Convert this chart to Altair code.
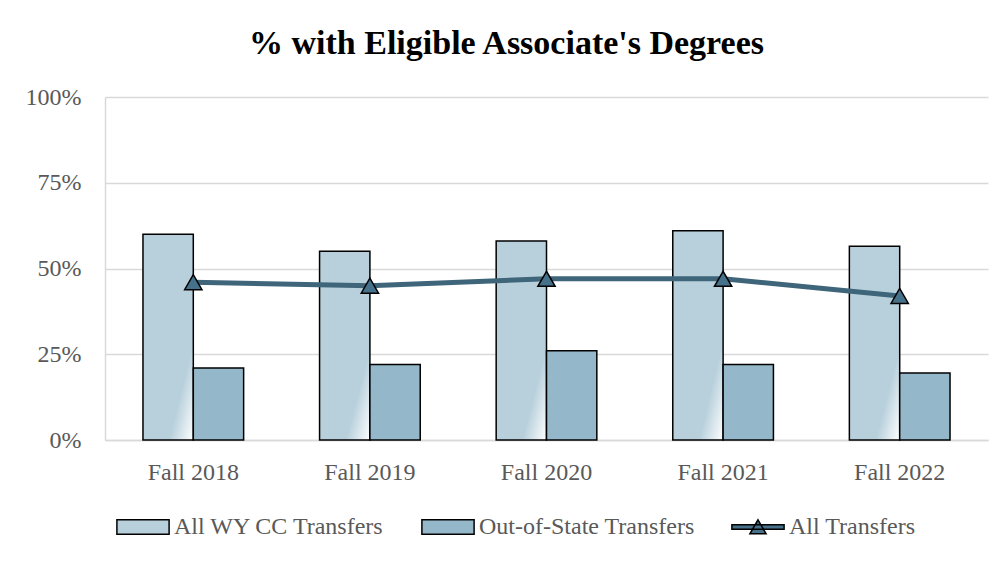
import altair as alt
import pandas as pd

categories = ["Fall 2018", "Fall 2019", "Fall 2020", "Fall 2021", "Fall 2022"]
series = ["All WY CC Transfers", "Out-of-State Transfers", "All Transfers"]
wy_cc = [0.60, 0.55, 0.58, 0.61, 0.565]
out_state = [0.21, 0.22, 0.26, 0.22, 0.195]
all_transfers = [0.46, 0.45, 0.47, 0.47, 0.42]

bars = pd.DataFrame(
    [{"cat": c, "series": series[0], "value": v} for c, v in zip(categories, wy_cc)]
    + [{"cat": c, "series": series[1], "value": v} for c, v in zip(categories, out_state)]
)
line = pd.DataFrame({"cat": categories, "series": series[2], "value": all_transfers})
legend_df = pd.DataFrame({"series": series})

FONT = "Liberation Serif"
GREY = "#595959"

gradient = {
    "gradient": "linear",
    "x1": 0, "y1": 0, "x2": 1, "y2": 1,
    "stops": [
        {"offset": 0, "color": "#b8d0dc"},
        {"offset": 0.76, "color": "#b8d0dc"},
        {"offset": 1, "color": "#ffffff"},
    ],
}

x_enc = alt.X(
    "cat:N",
    sort=categories,
    scale=alt.Scale(domain=categories, paddingInner=0.43, paddingOuter=0.215),
    axis=alt.Axis(title=None, labelAngle=0, ticks=False, domainColor="#d9d9d9",
                  domainWidth=1.5, labelPadding=20, grid=False),
)
y_enc = alt.Y(
    "value:Q",
    scale=alt.Scale(domain=[0, 1], nice=False),
    axis=alt.Axis(title=None, values=[0, 0.25, 0.5, 0.75, 1], format=".0%", ticks=False,
                  domainColor="#d9d9d9", domainWidth=1.5, gridColor="#d9d9d9",
                  gridWidth=1.5, labelPadding=24),
)

bar_layer = alt.Chart(bars).mark_bar(stroke="black", strokeWidth=1.5).encode(
    x=x_enc,
    xOffset=alt.XOffset("series:N", sort=series[:2], scale=alt.Scale(domain=series[:2], paddingInner=0, paddingOuter=0)),
    y=y_enc,
    fill=alt.condition(alt.datum.series == series[0], alt.value(gradient), alt.value("#94b8ca")),
)

line_layer = alt.Chart(line).mark_line(color="#3e6579", strokeWidth=5).encode(
    x=alt.X("cat:N", sort=categories), y="value:Q"
)

point_layer = alt.Chart(line).mark_point(
    shape="triangle-up", filled=True, fill="#46718a", stroke="black",
    strokeWidth=1.5, size=300, opacity=1
).encode(x=alt.X("cat:N", sort=categories), y="value:Q")

bar_path = "M-2.9,-0.8H2.9V0.8H-2.9Z"
line_path = "M-2.9,-0.25H2.9V0.25H-2.9Z M0,-0.8L0.9,0.75L-0.9,0.75Z"

legend_layer = alt.Chart(legend_df).mark_point(filled=True, opacity=1, size=324).encode(
    color=alt.Color(
        "series:N",
        scale=alt.Scale(domain=series, range=["#b8d0dc", "#94b8ca", "#46718a"]),
        sort=series,
        legend=alt.Legend(title=None),
    ),
    shape=alt.Shape(
        "series:N",
        scale=alt.Scale(domain=series, range=[bar_path, bar_path, line_path]),
        sort=series,
        legend=alt.Legend(title=None),
    ),
).transform_filter("datum.series == 'none'")

chart = alt.layer(bar_layer, line_layer, point_layer, legend_layer).properties(
    width=883,
    height=343,
    autosize=alt.AutoSizeParams(type="none"),
    padding={"left": 97, "top": 89, "right": 2, "bottom": 114},
    title=alt.TitleParams(
        "% with Eligible Associate's Degrees",
        font=FONT, fontSize=34, fontWeight="bold", color="black",
        anchor="middle", frame="bounds", offset=24,
    ),
).configure_view(stroke=None).configure_axis(
    labelFont=FONT, labelFontSize=24, labelColor=GREY
).configure_legend(
    orient="none", legendX=26, legendY=418, direction="horizontal",
    labelFont=FONT, labelFontSize=24, labelColor=GREY, labelLimit=0,
    symbolSize=324, symbolStrokeColor="black", symbolStrokeWidth=1.5,
    labelOffset=19, columnPadding=33,
)

chart.save("out.html", embed_options={"renderer": "svg", "actions": False})
